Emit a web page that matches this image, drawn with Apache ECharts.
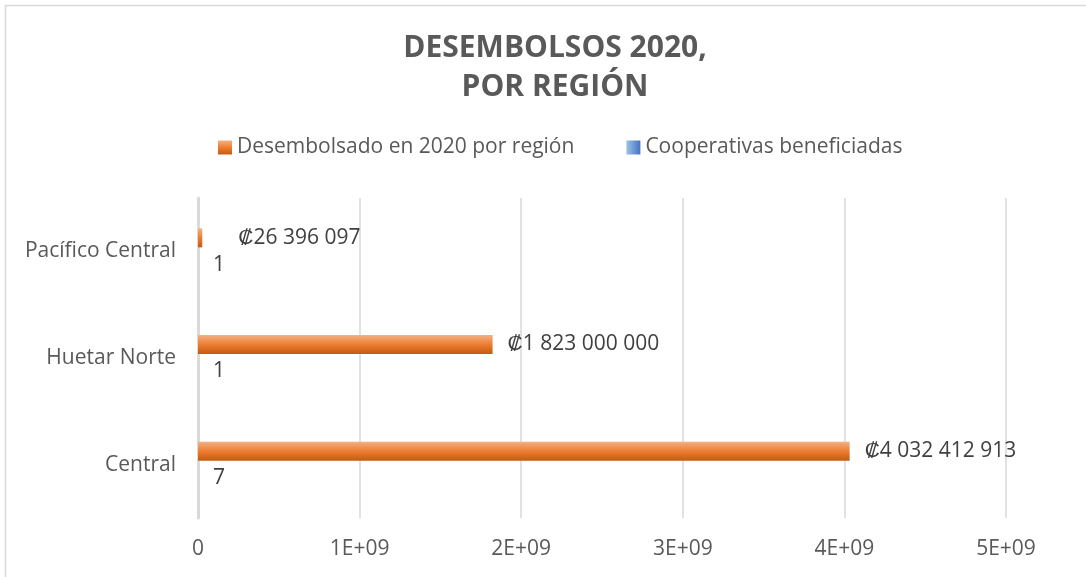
<!DOCTYPE html>
<html>
<head>
<meta charset="utf-8">
<script src="https://cdn.jsdelivr.net/npm/echarts@6/dist/echarts.min.js"></script>
<style>
  html, body { margin: 0; padding: 0; background: #fff; }
  #chart { width: 1086px; height: 577px; }
</style>
</head>
<body>
<div id="chart"></div>
<script>
// datos
const regiones = ["Central", "Huetar Norte", "Pacífico Central"];
const desembolsado = [4032412913, 1823000000, 26396097];
const cooperativas = [7, 1, 1];
const ejeTicks = [0, 1e9, 2e9, 3e9, 4e9, 5e9];

const fontFam = "'Open Sans', sans-serif";
const gris = "#595959";

function colones(v) {
  return "₡" + String(v).replace(/\B(?=(\d{3})+(?!\d))/g, " ");
}

const chart = echarts.init(document.getElementById("chart"));

// la etiqueta de la barra muy corta esta movida a la derecha en el original
const datosDesemb = desembolsado.map(function (v, i) {
  return i === 2 ? { value: v, label: { distance: 36 } } : v;
});

chart.setOption({
  backgroundColor: "#fff",
  animation: false,
  graphic: [
    {
      type: "rect",
      shape: { x: 5.5, y: 5.5, width: 1090, height: 590 },
      style: { fill: "none", stroke: "#d9d9d9", lineWidth: 1.5 }
    }
  ],
  title: {
    text: "DESEMBOLSOS 2020,\nPOR REGIÓN",
    left: 550,
    textAlign: "center",
    top: 24,
    textStyle: {
      fontFamily: fontFam,
      fontSize: 30,
      fontWeight: "bold",
      color: gris,
      lineHeight: 39
    }
  },
  legend: {
    top: 132,
    left: 213,
    icon: "rect",
    itemWidth: 14,
    itemHeight: 14,
    itemGap: 52,
    textStyle: { fontFamily: fontFam, fontSize: 21, color: gris },
    data: ["Desembolsado en 2020 por región", "Cooperativas beneficiadas"]
  },
  grid: {
    left: 198,
    right: 80,
    top: 198,
    bottom: 59,
    containLabel: false
  },
  xAxis: {
    type: "value",
    min: 0,
    max: 5e9,
    interval: 1e9,
    axisLine: { show: false },
    axisTick: { show: false },
    splitLine: { lineStyle: { color: "#d9d9d9", width: 1.5 } },
    axisLabel: {
      margin: 21,
      fontFamily: fontFam,
      fontSize: 21,
      color: gris,
      formatter: function (v) {
        if (ejeTicks.indexOf(v) < 0) return "";
        return v === 0 ? "0" : (v / 1e9) + "E+09";
      }
    }
  },
  yAxis: {
    type: "category",
    data: regiones,
    axisLine: { show: true, lineStyle: { color: "#d9d9d9", width: 3 } },
    axisTick: { show: false },
    axisLabel: {
      margin: 22,
      fontFamily: fontFam,
      fontSize: 21,
      color: gris
    }
  },
  series: [
    {
      name: "Desembolsado en 2020 por región",
      type: "bar",
      data: datosDesemb,
      barWidth: 19,
      barGap: "42%",
      itemStyle: {
        color: new echarts.graphic.LinearGradient(0, 0, 0, 1, [
          { offset: 0, color: "#f4b183" },
          { offset: 0.5, color: "#ed7d31" },
          { offset: 1, color: "#c55a11" }
        ])
      },
      label: {
        show: true,
        position: "right",
        distance: 15,
        fontFamily: fontFam,
        fontSize: 21,
        color: "#404040",
        formatter: function (p) { return colones(p.value); }
      }
    },
    {
      name: "Cooperativas beneficiadas",
      type: "bar",
      data: cooperativas,
      barWidth: 19,
      itemStyle: {
        color: new echarts.graphic.LinearGradient(0, 0, 1, 0, [
          { offset: 0, color: "#9dc3e6" },
          { offset: 1, color: "#4472c4" }
        ])
      },
      label: {
        show: true,
        position: "right",
        distance: 15,
        fontFamily: fontFam,
        fontSize: 21,
        color: "#404040"
      }
    }
  ]
});
</script>
</body>
</html>
